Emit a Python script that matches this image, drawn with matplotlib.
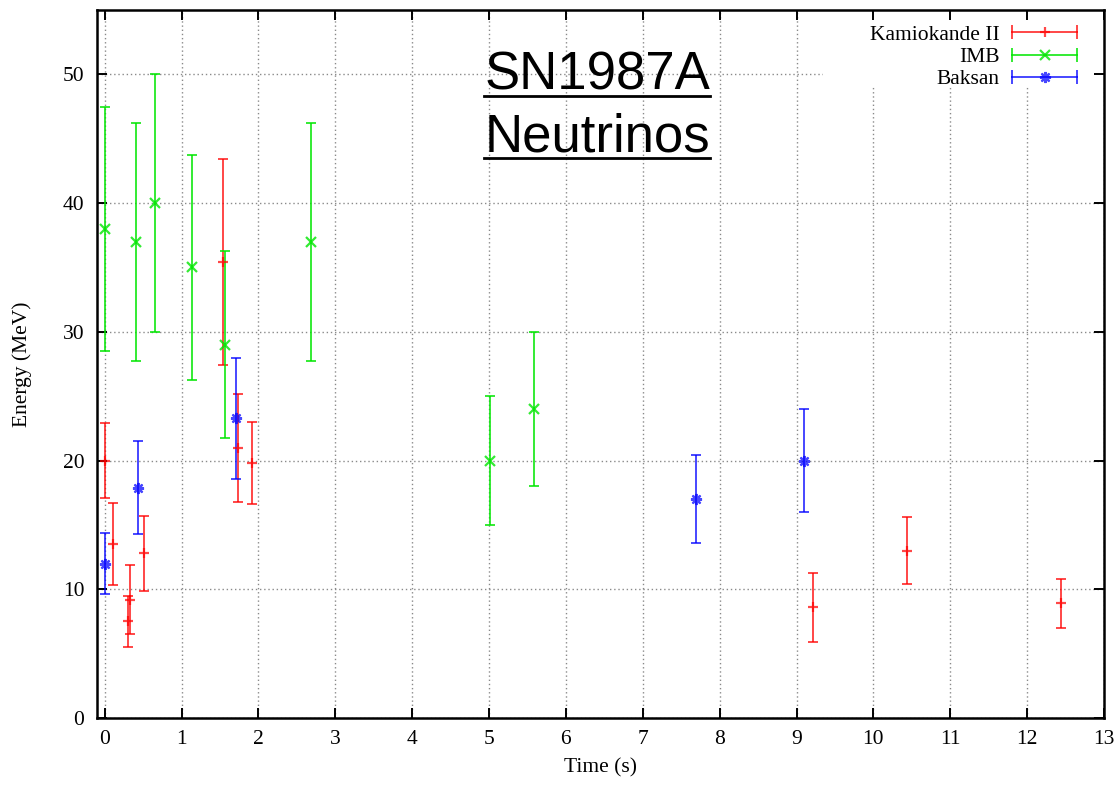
import matplotlib
matplotlib.use('Agg')
import matplotlib.pyplot as plt
from matplotlib.lines import Line2D
from matplotlib.patches import Rectangle
from matplotlib.legend_handler import HandlerBase

# ---- data ----
kam_t = [0.0, 0.107, 0.303, 0.324, 0.507, 1.541, 1.728, 1.915, 9.219, 10.433, 12.439]
kam_e = [20.0, 13.5, 7.5, 9.2, 12.8, 35.4, 21.0, 19.8, 8.6, 13.0, 8.9]
kam_err = [2.9, 3.2, 2.0, 2.7, 2.9, 8.0, 4.2, 3.2, 2.7, 2.6, 1.9]

imb_t = [0.0, 0.412, 0.650, 1.141, 1.562, 2.684, 5.010, 5.582]
imb_e = [38.0, 37.0, 40.0, 35.0, 29.0, 37.0, 20.0, 24.0]
imb_err = [9.5, 9.25, 10.0, 8.75, 7.25, 9.25, 5.0, 6.0]

bak_t = [0.0, 0.435, 1.710, 7.687, 9.099]
bak_e = [12.0, 17.9, 23.3, 17.0, 20.0]
bak_err = [2.4, 3.6, 4.7, 3.4, 4.0]

series_labels = ["Kamiokande II", "IMB", "Baksan"]
x_ticks = list(range(0, 14))
y_ticks = [0, 10, 20, 30, 40, 50]
title_lines = ["SN1987A", "Neutrinos"]

SERIF = ['Liberation Serif', 'DejaVu Serif']
SANS = ['Liberation Sans', 'DejaVu Sans']
plt.rcParams['font.family'] = SERIF

W, H, DPI = 1118, 786, 100
fig = plt.figure(figsize=(W / DPI, H / DPI), dpi=DPI)
ax = fig.add_axes([97 / W, 1 - 718 / H, (1104 - 97) / W, (718 - 10) / H])

ax.set_xlim(-0.1, 13)
ax.set_ylim(0, 55)

# grid (drawn manually so a key box can mask part of it)
grid_kw = dict(color='#8a8a8a', lw=1.0, ls=(0, (1, 2)), zorder=0.5)
for xv in x_ticks:
    ax.axvline(xv, **grid_kw)
for yv in y_ticks:
    ax.axhline(yv, **grid_kw)
# white box behind the key
ax.add_patch(Rectangle((9.35, 49.1), 13 - 9.35, 55 - 49.1, facecolor='white',
                       edgecolor='none', zorder=0.7))

RED = (1.0, 0.0, 0.0, 0.72)
GREEN = (0.0, 0.9, 0.0, 0.8)
BLUE = (0.0, 0.0, 1.0, 0.72)
ASTER = (8, 2, 0)

series = [
    (kam_t, kam_e, kam_err, RED, '+', 7.5),
    (imb_t, imb_e, imb_err, GREEN, 'x', 7.0),
    (bak_t, bak_e, bak_err, BLUE, ASTER, 8.0),
]
for (t, e, err, col, mk, ms) in series:
    ax.errorbar(t, e, yerr=err, fmt='none', ecolor=col, elinewidth=1.4,
                capsize=3.6, capthick=1.4, zorder=2)
    ax.plot(t, e, ls='none', marker=mk, ms=ms, mew=1.6, color=col, zorder=2.1)

ax.set_xticks(x_ticks)
ax.set_yticks(y_ticks)
ax.tick_params(direction='in', length=7, width=1.4, top=True, right=True,
               labelsize=15.5, pad=9)
for sp in ax.spines.values():
    sp.set_linewidth(1.8)

ax.set_xlabel("Time (s)", fontsize=15.5, labelpad=6)
ax.set_ylabel("Energy (MeV)", fontsize=15.5, labelpad=22)


class GnuErrHandler(HandlerBase):
    def create_artists(self, legend, orig_handle, xdescent, ydescent,
                       width, height, fontsize, trans):
        col = orig_handle.get_color()
        mk = orig_handle.get_marker()
        ms = orig_handle.get_markersize()
        y = (height - ydescent) / 2
        x0, x1 = -xdescent, -xdescent + width
        bar = Line2D([x0, x1], [y, y], color=col, lw=1.4, marker='|',
                     ms=10, mew=1.4, transform=trans)
        mid = Line2D([(x0 + x1) / 2], [y], color=col, ls='none', marker=mk,
                     ms=ms, mew=1.6, transform=trans)
        return [bar, mid]


proxies = [Line2D([], [], color=c, marker=m, ms=s) for (_, _, _, c, m, s) in series]
leg = ax.legend(proxies, series_labels, loc='upper right',
                bbox_to_anchor=(0.973, 0.979), frameon=False, markerfirst=False,
                handler_map={Line2D: GnuErrHandler()}, fontsize=15.5,
                handlelength=3.0, handletextpad=0.6, labelspacing=0.1,
                borderpad=0, borderaxespad=0)
leg.set_zorder(5)

# title with underline
tx = 597 / W
base_y = [1 - 90 / H, 1 - 152 / H]
texts = []
for s, by in zip(title_lines, base_y):
    texts.append(fig.text(tx, by, s, ha='center', va='baseline',
                          fontsize=38, family=SANS, color='black', zorder=6))
fig.canvas.draw()
r = fig.canvas.get_renderer()
for t in texts:
    bb = t.get_window_extent(r)
    yb = t.get_position()[1] * H - 6
    fig.add_artist(Line2D([bb.x0 / W, bb.x1 / W], [yb / H, yb / H],
                          transform=fig.transFigure, color='black', lw=2.0))

fig.savefig('out.png', dpi=DPI)
